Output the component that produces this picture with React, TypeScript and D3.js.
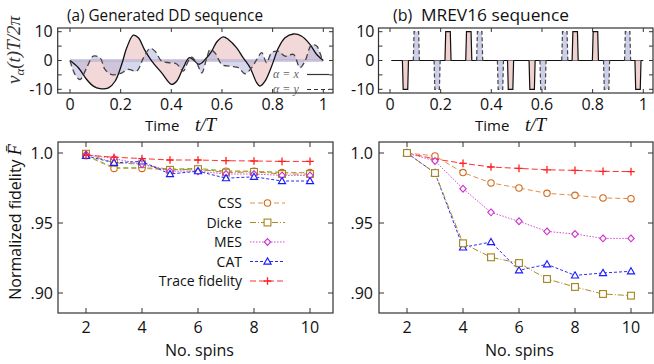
import * as d3 from "d3";

// (a) generated DD sequence
const ddXTime = [0, 0.033, 0.066, 0.092, 0.119, 0.152, 0.178, 0.204, 0.224, 0.25, 0.27, 0.294, 0.323, 0.362, 0.401, 0.421, 0.447, 0.472, 0.51, 0.535, 0.559, 0.58, 0.605, 0.625, 0.658, 0.684, 0.711, 0.737, 0.75, 0.77, 0.796, 0.823, 0.849, 0.882, 0.915, 0.948, 0.974, 1.0];
const ddXValue = [0, -2.5, -6.6, -8.9, -9.8, -9.5, -7.2, -1.4, 4.4, 8.8, 7.9, 3.8, -0.2, -4.3, -8.3, -7.2, -2.5, 1.0, -1.3, 0.5, 3.2, 6.5, 8.2, 7.3, 4.4, 0.9, -2.5, -7.7, -8.9, -7.2, -2.0, 4.4, 7.9, 9.2, 8.4, 5.5, 2.1, 0];
const ddYTime = [0, 0.02, 0.04, 0.066, 0.092, 0.119, 0.138, 0.165, 0.197, 0.23, 0.263, 0.29, 0.316, 0.336, 0.362, 0.395, 0.421, 0.447, 0.467, 0.48, 0.5, 0.52, 0.54, 0.553, 0.572, 0.6, 0.632, 0.665, 0.691, 0.717, 0.737, 0.757, 0.776, 0.796, 0.823, 0.849, 0.882, 0.908, 0.928, 0.954, 0.974, 0.994, 1.0];
const ddYValue = [0, -4.9, -6.6, -2.5, 1.5, 0.9, -3.1, -4.9, -4.6, -3.1, -3.7, 0.9, 4.2, 3.2, -0.2, -0.8, -1.2, -3.7, -0.2, 1.2, -0.8, -4.3, 0.9, 3.8, 2.7, -1.4, -2.0, -2.5, -4.6, -2.5, 0.3, 2.7, -0.8, 2.7, 3.2, 1.5, 2.1, -2.5, -0.2, 5.5, 5.0, 0.9, 0];

// (b) MREV16 pulse centres and signs
const mrevXCentre = [0.061, 0.229, 0.311, 0.476, 0.561, 0.731, 0.811, 0.979];
const mrevXSign = [-1, 1, 1, -1, -1, 1, 1, -1];
const mrevYCentre = [0.104, 0.186, 0.354, 0.436, 0.604, 0.69, 0.855, 0.938];
const mrevYSign = [1, -1, 1, -1, -1, 1, -1, 1];
const pulseAmp = 10;
const pulseWidth = 0.024;

// fidelity vs number of spins
const spins = [2, 3, 4, 5, 6, 7, 8, 9, 10];
const aTrace = [0.9985, 0.997, 0.996, 0.995, 0.995, 0.9945, 0.9943, 0.994, 0.994];
const aCss = [0.998, 0.989, 0.989, 0.988, 0.988, 0.987, 0.987, 0.986, 0.986];
const aDicke = [0.9995, 0.993, 0.992, 0.988, 0.9885, 0.986, 0.9865, 0.985, 0.985];
const aMes = [0.999, 0.996, 0.992, 0.987, 0.987, 0.985, 0.985, 0.984, 0.984];
const aCat = [0.998, 0.993, 0.994, 0.985, 0.987, 0.982, 0.983, 0.98, 0.98];
const aGreen = [0.9985, 0.9895, 0.9895, 0.9885, 0.989, 0.9872, 0.9868, 0.9862, 0.986];
const bTrace = [1.0, 0.9957, 0.9926, 0.99, 0.989, 0.988, 0.9876, 0.9869, 0.9867];
const bCss = [1.0, 0.9979, 0.986, 0.9786, 0.975, 0.9712, 0.9698, 0.9679, 0.9674];
const bMes = [1.0, 0.9943, 0.9745, 0.9576, 0.9512, 0.944, 0.9421, 0.939, 0.939];
const bCat = [1.0, 0.9857, 0.9326, 0.9364, 0.9162, 0.9205, 0.9126, 0.9143, 0.9155];
const bDicke = [1.0, 0.9857, 0.9355, 0.9255, 0.9214, 0.91, 0.9043, 0.8993, 0.8981];

const timeTicks = [0, 0.2, 0.4, 0.6, 0.8, 1];
const timeTickLabels = ["0", "0.2", "0.4", "0.6", "0.8", "1"];
const vTicks = [-10, -5, 0, 5, 10];
const vTickLabels = ["-10", "", "0", "", "10"];
const spinTicks = [2, 4, 6, 8, 10];
const fidTicks = [0.9, 0.95, 1.0];
const fidTickLabels = [".90", ".95", "1.0"];

const legendNames = ["CSS", "Dicke", "MES", "CAT", "Trace fidelity"];

const SANS = "'Open Sans', sans-serif";
const SERIF = "'Liberation Serif', 'DejaVu Serif', serif";
const FRAME = "#333";

const styles: Record<string, { color: string; line: string; dash: string; marker: string }> = {
  CSS: { color: "#d2691e", line: "#e0904a", dash: "5,3", marker: "circle" },
  Dicke: { color: "#a3841c", line: "#a88c2a", dash: "6,2,1,2", marker: "square" },
  MES: { color: "#cc2fcc", line: "#d050d0", dash: "1.5,1.5", marker: "diamond" },
  CAT: { color: "#1a1aff", line: "#2a2aff", dash: "3,2", marker: "triangle" },
  "Trace fidelity": { color: "#ff2020", line: "#ff3030", dash: "6,3", marker: "plus" },
  green: { color: "#55c830", line: "#55c830", dash: "5,3", marker: "none" },
};

function Marker({ kind, x, y, color }: { kind: string; x: number; y: number; color: string }) {
  const sw = 1.1;
  if (kind === "circle") return <circle cx={x} cy={y} r={3.2} fill="white" stroke={color} strokeWidth={sw} />;
  if (kind === "square") return <rect x={x - 3.4} y={y - 3.4} width={6.8} height={6.8} fill="white" stroke={color} strokeWidth={sw} />;
  if (kind === "diamond")
    return <path d={`M${x},${y - 3.4}L${x + 3.2},${y}L${x},${y + 3.4}L${x - 3.2},${y}Z`} fill="white" stroke={color} strokeWidth={sw} />;
  if (kind === "triangle")
    return <path d={`M${x},${y - 3.6}L${x + 3.6},${y + 2.6}L${x - 3.6},${y + 2.6}Z`} fill="white" stroke={color} strokeWidth={sw} />;
  if (kind === "plus")
    return <path d={`M${x - 3.8},${y}H${x + 3.8}M${x},${y - 3.8}V${y + 3.8}`} stroke={color} strokeWidth={1.3} />;
  return null;
}

type Box = { left: number; right: number; top: number; bottom: number };

function Frame({ box, xs, ys, tick = 4 }: { box: Box; xs: number[]; ys: number[]; tick?: number }) {
  return (
    <g stroke={FRAME} fill="none">
      <rect x={box.left} y={box.top} width={box.right - box.left} height={box.bottom - box.top} strokeWidth={1.2} />
      {xs.map((x, i) => (
        <path key={"x" + i} d={`M${x},${box.bottom}v${-tick}M${x},${box.top}v${tick}`} strokeWidth={1} />
      ))}
      {ys.map((y, i) => (
        <path key={"y" + i} d={`M${box.left},${y}h${tick}M${box.right},${y}h${-tick}`} strokeWidth={1} />
      ))}
    </g>
  );
}

function TimeLabel({ x }: { x: number }) {
  return (
    <g>
      <text x={x} y={131} fontFamily={SANS} fontSize={15} fill="#111">Time</text>
      <text x={x + 50} y={131} fontFamily={SERIF} fontStyle="italic" fontSize={19} fill="#111">t/T</text>
    </g>
  );
}

export default function App() {
  const W = 654;
  const H = 364;

  // top panels
  const topBoxA: Box = { left: 57.7, right: 333, top: 28, bottom: 93 };
  const topBoxB: Box = { left: 378.5, right: 653, top: 28, bottom: 93 };
  const tA = d3.scaleLinear().domain([0, 1]).range([70, 323.3]);
  const tB = d3.scaleLinear().domain([0, 1]).range([390, 643.3]);
  const v = d3.scaleLinear().domain([-10, 10]).range([89.3, 31.7]);

  // bottom panels
  const botBoxA: Box = { left: 58, right: 333, top: 142, bottom: 313 };
  const botBoxB: Box = { left: 379, right: 653, top: 142, bottom: 313 };
  const nA = d3.scaleLinear().domain([2, 10]).range([86, 310]);
  const nB = d3.scaleLinear().domain([2, 10]).range([407, 631]);
  const f = d3.scaleLinear().domain([0.9, 1.0]).range([293, 153]);

  const ddX = ddXTime.map((t, i) => [t, ddXValue[i]] as [number, number]);
  const ddY = ddYTime.map((t, i) => [t, ddYValue[i]] as [number, number]);
  const curve = d3.curveCatmullRom.alpha(0.5);
  const lineA = d3.line<[number, number]>().x((d) => tA(d[0])).y((d) => v(d[1])).curve(curve);
  const areaA = d3.area<[number, number]>().x((d) => tA(d[0])).y0(v(0)).y1((d) => v(d[1])).curve(curve);

  const pulse = (c: number, s: number) => {
    const r = 0.003;
    return [
      [c - pulseWidth / 2, 0],
      [c - pulseWidth / 2 + r, s * pulseAmp],
      [c + pulseWidth / 2 - r, s * pulseAmp],
      [c + pulseWidth / 2, 0],
    ] as [number, number][];
  };
  const lineB = d3.line<[number, number]>().x((d) => tB(d[0])).y((d) => v(d[1]));

  const seriesA = [
    { name: "green", vals: aGreen },
    { name: "CSS", vals: aCss },
    { name: "Dicke", vals: aDicke },
    { name: "MES", vals: aMes },
    { name: "CAT", vals: aCat },
    { name: "Trace fidelity", vals: aTrace },
  ];
  const seriesB = [
    { name: "Trace fidelity", vals: bTrace },
    { name: "CSS", vals: bCss },
    { name: "MES", vals: bMes },
    { name: "CAT", vals: bCat },
    { name: "Dicke", vals: bDicke },
  ];

  const drawSeries = (list: { name: string; vals: number[] }[], n: d3.ScaleLinear<number, number>) =>
    list.map((s) => {
      const st = styles[s.name];
      const pts = spins.map((k, i) => [n(k), f(s.vals[i])] as [number, number]);
      return (
        <g key={s.name}>
          <path d={d3.line()(pts) || ""} fill="none" stroke={st.line} strokeWidth={1} strokeDasharray={st.dash} />
          {pts.map((p, i) => (
            <Marker key={i} kind={st.marker} x={p[0]} y={p[1]} color={st.color} />
          ))}
        </g>
      );
    });

  const legendY = d3.scaleLinear().domain([0, 4]).range([203, 281]);

  return (
    <svg width={W} height={H} style={{ position: "absolute", left: 0, top: 0, background: "white" }}>
      {/* titles */}
      <text x={67} y={21} fontFamily={SANS} fontSize={16} textLength={196} lengthAdjust="spacingAndGlyphs" fill="#111">
        (a) Generated DD sequence
      </text>
      <text x={393} y={21} fontFamily={SANS} fontSize={16} fill="#111">(b)</text>
      <text x={421} y={21} fontFamily={SANS} fontSize={16} textLength={148} lengthAdjust="spacingAndGlyphs" fill="#111">
        MREV16 sequence
      </text>

      {/* top-left: generated DD */}
      <line x1={tA(0)} x2={tA(1)} y1={v(0)} y2={v(0)} stroke="#cdcde8" strokeWidth={3} />
      <path d={areaA(ddX) || ""} fill="#e2a8a8" fillOpacity={0.45} />
      <path d={areaA(ddY) || ""} fill="#aeb0dc" fillOpacity={0.5} />
      <path d={lineA(ddX) || ""} fill="none" stroke="#111" strokeWidth={1.3} />
      <path d={lineA(ddY) || ""} fill="none" stroke="#444" strokeWidth={1.3} strokeDasharray="6,3.5" />
      <g fontFamily={SERIF} fontStyle="italic" fontSize={12} fill="#666">
        <text x={273} y={78}>α = x</text>
        <text x={273} y={93}>α = y</text>
      </g>
      <line x1={307} x2={329} y1={74.5} y2={74.5} stroke="#333" strokeWidth={1.2} />
      <line x1={307} x2={329} y1={89.5} y2={89.5} stroke="#333" strokeWidth={1.2} strokeDasharray="4,3" />
      <Frame box={topBoxA} xs={timeTicks.map(tA)} ys={vTicks.map(v)} />

      {/* top-right: MREV16 */}
      <line x1={tB(0.005)} x2={tB(1)} y1={v(0)} y2={v(0)} stroke="#111" strokeWidth={1.2} />
      {mrevYCentre.map((c, i) => (
        <path key={"py" + i} d={lineB(pulse(c, mrevYSign[i])) || ""} fill="#c4c6e4" fillOpacity={0.85} stroke="#444" strokeWidth={1.2} strokeDasharray="4,2.5" />
      ))}
      {mrevXCentre.map((c, i) => (
        <path key={"px" + i} d={lineB(pulse(c, mrevXSign[i])) || ""} fill="#efd2d0" stroke="#111" strokeWidth={1.2} />
      ))}
      <Frame box={topBoxB} xs={timeTicks.map(tB)} ys={vTicks.map(v)} />

      {/* top tick labels */}
      <g fontFamily={SANS} fontSize={16} fill="#111">
        {timeTicks.map((t, i) => (
          <text key={"ta" + i} x={tA(t)} y={110} textAnchor="middle">{timeTickLabels[i]}</text>
        ))}
        {timeTicks.map((t, i) => (
          <text key={"tb" + i} x={tB(t)} y={110} textAnchor="middle">{timeTickLabels[i]}</text>
        ))}
        {vTicks.map((t, i) => (
          <text key={"va" + i} x={topBoxA.left - 5} y={v(t) + 5.5} textAnchor="end">{vTickLabels[i]}</text>
        ))}
        {vTicks.map((t, i) => (
          <text key={"vb" + i} x={topBoxB.left - 4} y={v(t) + 5.5} textAnchor="end">{vTickLabels[i]}</text>
        ))}
      </g>
      <TimeLabel x={145} />
      <TimeLabel x={475} />
      <text transform="translate(20,50) rotate(-90)" textAnchor="middle" fontFamily={SERIF} fontStyle="italic" fontSize={19} fill="#333">
        v<tspan fontSize={13} dy={4}>α</tspan>
        <tspan dy={-4}>(t)T/2π</tspan>
      </text>

      {/* bottom panels */}
      <g>{drawSeries(seriesA, nA)}</g>
      <g>{drawSeries(seriesB, nB)}</g>
      <Frame box={botBoxA} xs={spinTicks.map(nA)} ys={fidTicks.map(f)} tick={5} />
      <Frame box={botBoxB} xs={spinTicks.map(nB)} ys={fidTicks.map(f)} tick={5} />

      {/* legend */}
      <g>
        {legendNames.map((name, i) => {
          const st = styles[name];
          const y = legendY(i);
          return (
            <g key={name}>
              <text x={242} y={y + 5} textAnchor="end" fontFamily={SANS} fontSize={14} fill="#111">{name}</text>
              <line x1={250} x2={285} y1={y} y2={y} stroke={st.line} strokeWidth={1} strokeDasharray={st.dash} />
              <Marker kind={st.marker} x={267.5} y={y} color={st.color} />
            </g>
          );
        })}
      </g>

      <g fontFamily={SANS} fontSize={16} fill="#111">
        {spinTicks.map((s, i) => (
          <text key={"na" + i} x={nA(s)} y={333} textAnchor="middle">{s}</text>
        ))}
        {spinTicks.map((s, i) => (
          <text key={"nb" + i} x={nB(s)} y={333} textAnchor="middle">{s}</text>
        ))}
        {fidTicks.map((t, i) => (
          <text key={"fa" + i} x={botBoxA.left - 5} y={f(t) + 5.5} textAnchor="end">{fidTickLabels[i]}</text>
        ))}
        {fidTicks.map((t, i) => (
          <text key={"fb" + i} x={botBoxB.left - 6} y={f(t) + 5.5} textAnchor="end">{fidTickLabels[i]}</text>
        ))}
        <text x={nA(6) + 1.5} y={356} textAnchor="middle">No. spins</text>
        <text x={nB(6) + 0.5} y={356} textAnchor="middle">No. spins</text>
      </g>
      <text transform="translate(21,222) rotate(-90)" textAnchor="middle" fontFamily={SANS} fontSize={16} fill="#111">
        Normalized fidelity <tspan fontFamily={SERIF} fontStyle="italic" fontSize={18}>F̄</tspan>
      </text>
    </svg>
  );
}
